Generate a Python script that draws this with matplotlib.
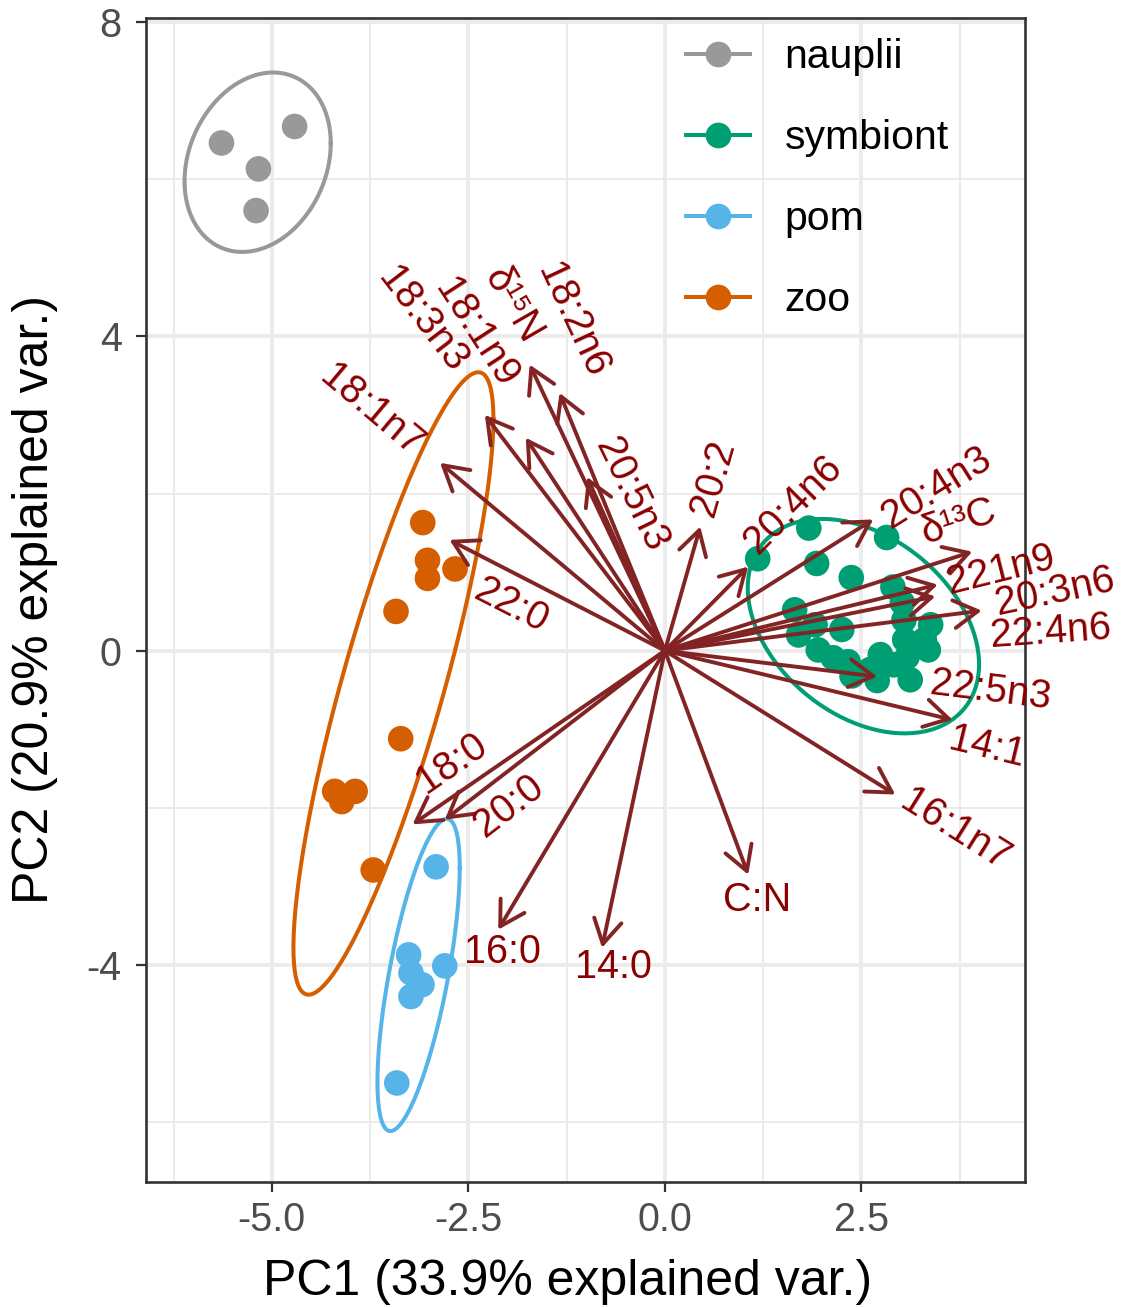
import numpy as np
import matplotlib.pyplot as plt
from matplotlib.lines import Line2D

plt.rcParams['font.family'] = ['Liberation Sans', 'DejaVu Sans']
plt.rcParams['axes.unicode_minus'] = False

# PCA scores for each sample group
nauplii_pc1 = [-5.64, -4.71, -5.17, -5.20]
nauplii_pc2 = [6.46, 6.67, 6.13, 5.60]

symbiont_pc1 = [1.18, 1.83, 2.82, 1.93, 2.37, 2.90, 3.02, 3.04, 3.38, 1.65, 1.70, 2.25, 1.95,
                2.14, 2.33, 2.38, 2.74, 2.70, 3.05, 3.08, 3.35, 3.12, 2.91, 3.30, 2.61, 1.91]
symbiont_pc2 = [1.17, 1.56, 1.44, 1.11, 0.93, 0.81, 0.61, 0.39, 0.33, 0.52, 0.20, 0.27, 0.01,
                -0.09, -0.14, -0.32, -0.05, -0.38, 0.14, -0.08, 0.01, -0.37, -0.18, 0.14, -0.24, 0.33]

pom_pc1 = [-2.91, -3.26, -2.80, -3.23, -3.09, -3.23, -3.41]
pom_pc2 = [-2.75, -3.87, -4.01, -4.10, -4.25, -4.40, -5.50]

zoo_pc1 = [-3.08, -3.02, -3.02, -2.67, -3.42, -3.36, -4.20, -3.94, -4.11, -3.71]
zoo_pc2 = [1.63, 1.15, 0.92, 1.04, 0.50, -1.12, -1.79, -1.79, -1.92, -2.79]

group_names = ['nauplii', 'symbiont', 'pom', 'zoo']
group_pc1 = [nauplii_pc1, symbiont_pc1, pom_pc1, zoo_pc1]
group_pc2 = [nauplii_pc2, symbiont_pc2, pom_pc2, zoo_pc2]
group_colors = ['#999999', '#009E73', '#56B4E9', '#D55E00']

# variable loadings (arrow tips)
var_names = ['18:1n7', '18:3n3', '18:1n9', 'δ¹⁵N', '18:2n6', '20:5n3', '22:0',
             '20:2', '20:4n6', '20:4n3', 'δ¹³C', '221n9', '20:3n6', '22:4n6',
             '22:5n3', '14:1', '16:1n7', 'C:N', '14:0', '16:0', '18:0', '20:0']
load_pc1 = [-2.86, -2.29, -1.77, -1.72, -1.34, -0.99, -2.74,
            0.45, 1.06, 2.65, 3.91, 3.47, 3.44, 4.03,
            2.70, 3.66, 2.93, 1.06, -0.80, -2.12, -3.21, -2.80]
load_pc2 = [2.39, 3.00, 2.71, 3.64, 3.28, 2.21, 1.41,
            1.58, 1.07, 1.67, 1.26, 0.84, 0.69, 0.51,
            -0.33, -0.88, -1.83, -2.85, -3.78, -3.55, -2.21, -2.15]

# where each variable name sits, and its angle
label_x = [-3.73, -3.08, -2.40, -1.93, -1.18, -0.43, -1.96,
           0.61, 1.63, 3.45, 3.74, 4.27, 4.96, 4.90,
           4.14, 4.10, 3.69, 1.17, -0.66, -2.07, -2.72, -1.98]
label_y = [3.06, 4.21, 4.04, 4.40, 4.21, 1.99, 0.57,
           2.20, 1.86, 2.08, 1.64, 1.03, 0.75, 0.24,
           -0.50, -1.23, -2.28, -3.17, -4.03, -3.83, -1.43, -1.97]
label_rot = [-40, -52.6, -57, -60, -65, -64, -27,
             74, 45, 32, 18, 14, 12, 4,
             -7, -13.5, -32, 0, 0, 0, 34.5, 37.5]

fig = plt.figure(figsize=(11.25, 13.08), dpi=100)
ax = fig.add_axes([146 / 1125, 1 - 1182 / 1308, 879 / 1125, 1164 / 1308])

ax.set_xlim(-6.60, 4.58)
ax.set_ylim(-6.76, 8.05)

ax.set_xticks([-5.0, -2.5, 0.0, 2.5])
ax.set_xticklabels(['-5.0', '-2.5', '0.0', '2.5'])
ax.set_xticks([-6.25, -3.75, -1.25, 1.25, 3.75], minor=True)
ax.set_yticks([-4, 0, 4, 8])
ax.set_yticklabels(['-4', '0', '4', '8'])
ax.set_yticks([-6, -2, 2, 6], minor=True)
ax.grid(which='major', color='#EBEBEB', lw=2.8)
ax.grid(which='minor', color='#EBEBEB', lw=1.4)
ax.set_axisbelow(True)
ax.tick_params(which='major', length=7.5, width=1.6, color='#333333',
               labelsize=28.5, labelcolor='#4D4D4D', pad=6)
ax.tick_params(axis='y', which='major', pad=10)
ax.tick_params(which='minor', length=0)
for sp in ax.spines.values():
    sp.set_color('#333333')
    sp.set_linewidth(1.9)

ax.set_xlabel('PC1 (33.9% explained var.)', fontsize=36, color='black')
ax.set_ylabel('PC2 (20.9% explained var.)', fontsize=36, color='black',
              va='center', ha='center')
ax.xaxis.set_label_coords((568 - 146) / 879, -0.066)
ax.yaxis.set_label_coords((35 - 146) / 879, 0.5)


def ellipse_path(x, y, prob=0.95, n=200):
    xy = np.column_stack([x, y])
    mu = xy.mean(axis=0)
    sigma = np.cov(xy, rowvar=False)
    ed = np.sqrt(-2 * np.log(1 - prob))
    t = np.linspace(0, 2 * np.pi, n)
    circle = np.column_stack([np.cos(t), np.sin(t)])
    pts = circle @ np.linalg.cholesky(sigma).T * ed + mu
    return pts[:, 0], pts[:, 1]


# points and ellipses
for gx, gy, col in zip(group_pc1, group_pc2, group_colors):
    ax.scatter(gx, gy, s=340, color=col, edgecolors='none', zorder=3)
    ex, ey = ellipse_path(gx, gy)
    ax.plot(ex, ey, color=col, lw=2.9, zorder=3)

# loading arrows
arrow_col = '#832424'
for x, y in zip(load_pc1, load_pc2):
    ax.annotate('', xy=(x, y), xytext=(0, 0),
                arrowprops=dict(arrowstyle='->,head_length=1.73,head_width=1.0',
                                color=arrow_col, lw=2.8, shrinkA=0, shrinkB=0),
                zorder=4)

for name, x, y, r in zip(var_names, label_x, label_y, label_rot):
    ax.text(x, y, name, rotation=r, rotation_mode='anchor', ha='center', va='center',
            color='#8B0000', fontsize=28.5, zorder=5)

handles = [Line2D([], [], color=c, lw=2.9, marker='o', markersize=18.5, markeredgewidth=0)
           for c in group_colors]
fig.legend(handles, group_names, loc='upper left', bbox_to_anchor=(686 / 1125, 1 - 38 / 1308),
           frameon=False, fontsize=29.5, handlelength=1.56, handletextpad=0.85,
           labelspacing=1.05, borderpad=0, borderaxespad=0)

fig.savefig('out.png', dpi=100)
